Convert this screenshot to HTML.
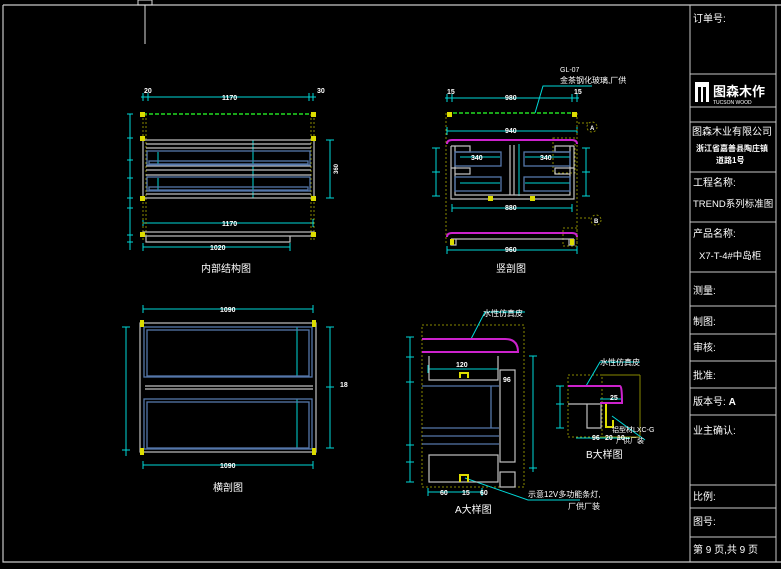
<!DOCTYPE html>
<html><head><meta charset="utf-8"><style>
html,body{margin:0;padding:0;background:#000;width:781px;height:569px;overflow:hidden}
svg{display:block}
text{font-family:"Liberation Sans","Noto Sans CJK SC",sans-serif;fill:#fff}
</style></head><body>
<svg width="781" height="569" viewBox="0 0 781 569" xmlns="http://www.w3.org/2000/svg">
<rect width="781" height="569" fill="#000"/>
<!-- outer frame -->
<path d="M3,5 H781 M3,5 V562 H781" stroke="#c8c8c8" stroke-width="1.2" fill="none"/>
<rect x="138" y="0" width="14" height="5" fill="none" stroke="#ddd"/>
<line x1="145" y1="5" x2="145" y2="44" stroke="#ddd"/>
<!-- title block -->
<g stroke="#c8c8c8" stroke-width="1" fill="none">
<rect x="690" y="5" width="86" height="557"/>
<path d="M690,74H776M690,107H776M690,122H776M690,172H776M690,222H776M690,272H776M690,306H776M690,334H776M690,361H776M690,388H776M690,415H776M690,485H776M690,508H776M690,537H776"/>
</g>
<g font-size="10">
<text x="693" y="22">订单号:</text>
<rect x="695" y="82" width="14" height="20" fill="#fff"/>
<rect x="698" y="87" width="3" height="15" fill="#000"/><rect x="703" y="87" width="3" height="15" fill="#000"/>
<text x="713" y="96" font-size="13" font-weight="bold">图森木作</text>
<text x="713" y="104" font-size="5">TUCSON WOOD</text>
<text x="692" y="135">图森木业有限公司</text>
<text x="696" y="151" font-size="8" font-weight="bold">浙江省嘉善县陶庄镇</text>
<text x="716" y="163" font-size="8" font-weight="bold">道路1号</text>
<text x="693" y="186">工程名称:</text>
<text x="693" y="207" font-size="9.5">TREND系列标准图</text>
<text x="693" y="237">产品名称:</text>
<text x="699" y="259" font-size="9.5">X7-T-4#中岛柜</text>
<text x="693" y="294">测量:</text>
<text x="693" y="325">制图:</text>
<text x="693" y="351">审核:</text>
<text x="693" y="379">批准:</text>
<text x="693" y="405">版本号:  <tspan font-weight="bold">A</tspan></text>
<text x="693" y="434">业主确认:</text>
<text x="693" y="500">比例:</text>
<text x="693" y="525">图号:</text>
<text x="693" y="553">第 9 页,共 9 页</text>
</g>

<!-- ===== 内部结构图 ===== -->
<g stroke="#00d8d8" stroke-width="1" fill="none">
<path d="M141,97H316 M143,93V101 M148,93V101 M313,93V101 M309,93V101"/>
<path d="M143,223H313 M143,219V227 M313,219V227"/>
<path d="M143,247H290 M143,243V251 M290,243V251"/>
<path d="M330,140V198 M326,140H334 M326,198H334"/>
<path d="M253,140V198 M249,140H257 M249,198H257"/>
<path d="M130,114V250 M127,114H133 M127,138H133 M127,160H133 M127,178H133 M127,198H133 M127,208H133 M127,235H133 M127,242H133"/>
<path d="M158,152V165 M158,178V190"/>
</g>
<line x1="143" y1="114" x2="314" y2="114" stroke="#22dd22" stroke-width="1.5" stroke-dasharray="4,2"/>
<g stroke="#888800" stroke-dasharray="2,2"><path d="M143,114V240 M146,114V240 M311,114V240 M314,114V240"/></g>
<g stroke="#c0c0c0" fill="none" stroke-width="1.2">
<rect x="143" y="140" width="171" height="58"/>
<path d="M146,144H311 M146,148H311 M146,166H311 M146,170H311 M146,175H311 M146,194H311"/>
<rect x="143" y="232" width="171" height="4"/>
<path d="M146,236V242H290V236"/>
</g>
<g stroke="#5577aa" fill="none" stroke-width="1.3">
<rect x="147" y="151" width="163" height="14"/><rect x="149" y="161" width="159" height="3"/>
<rect x="147" y="177" width="163" height="14"/><rect x="149" y="187" width="159" height="3"/>
</g>
<g fill="#dddd00">
<rect x="140" y="112" width="5" height="5"/><rect x="311" y="112" width="5" height="5"/>
<rect x="140" y="136" width="5" height="5"/><rect x="311" y="136" width="5" height="5"/>
<rect x="140" y="196" width="5" height="5"/><rect x="311" y="196" width="5" height="5"/>
<rect x="140" y="232" width="5" height="5"/><rect x="311" y="232" width="5" height="5"/>
</g>
<g font-size="7" font-weight="bold">
<text x="144" y="93">20</text><text x="317" y="93">30</text>
<text x="222" y="100">1170</text><text x="222" y="226">1170</text><text x="210" y="250">1020</text>
<text x="332" y="172" font-size="6" transform="rotate(-90 336 170)">360</text>
</g>
<text x="201" y="272" font-size="10">内部结构图</text>

<!-- ===== 竖剖图 ===== -->
<g stroke="#00d8d8" fill="none">
<path d="M445,98H579 M447,94V102 M452,94V102 M572,94V102 M577,94V102"/>
<path d="M447,131H577 M447,127V135 M577,127V135"/>
<path d="M452,208H572 M452,204V212 M572,204V212"/>
<path d="M447,250H577 M447,246V254 M577,246V254"/>
<path d="M436,148V196 M432,148H440 M432,172H440 M432,196H440"/>
<path d="M586,148V196 M582,148H590 M582,172H590 M582,196H590"/>
<path d="M519,144V196"/>
<path d="M535,113L543,86H592"/>
<path d="M460,157H500 M525,157H570 M460,183H500 M525,183H570"/>
</g>
<line x1="447" y1="113" x2="577" y2="113" stroke="#22dd22" stroke-width="1.5" stroke-dasharray="4,2"/>
<g stroke="#888800" stroke-dasharray="2,2" fill="none"><path d="M446,113V245 M577,113V245 M578,123H590 M580,218H590"/><circle cx="592" cy="127" r="5"/><circle cx="596" cy="220" r="5"/><rect x="553" y="138" width="22" height="35"/><rect x="563" y="228" width="14" height="18"/></g>
<g stroke="#cc22cc" stroke-width="2" fill="none">
<path d="M447,144Q447,140 452,140H572Q577,140 577,144"/>
<path d="M447,237Q447,233 452,233H572Q577,233 577,237"/>
</g>
<g stroke="#c0c0c0" fill="none" stroke-width="1.2">
<path d="M451,146V199H574V146 M455,146V195H570V146 M451,146H470V152H455 M574,146H555V152H570 M451,168H470V174H455 M574,168H555V174H570 M510,145V195 M514,145V195 M451,239H574 M451,239V245H456V239 M574,239V245H569V239"/>
</g>
<g stroke="#5577aa" fill="none" stroke-width="1.3">
<rect x="455" y="152" width="46" height="14"/><rect x="524" y="152" width="46" height="14"/>
<rect x="455" y="177" width="46" height="14"/><rect x="524" y="177" width="46" height="14"/>
</g>
<g fill="#dddd00"><rect x="447" y="112" width="5" height="5"/><rect x="572" y="112" width="5" height="5"/><rect x="488" y="196" width="5" height="5"/><rect x="530" y="196" width="5" height="5"/><rect x="450" y="239" width="4" height="6"/><rect x="570" y="239" width="4" height="6"/></g>
<g font-size="7" font-weight="bold">
<text x="447" y="94">15</text><text x="574" y="94">15</text>
<text x="505" y="100">980</text><text x="505" y="133">940</text><text x="505" y="210">880</text><text x="505" y="252">960</text>
<text x="471" y="160">340</text><text x="540" y="160">340</text>
<text x="590" y="130" font-size="6">A</text><text x="594" y="223" font-size="6">B</text>
</g>
<text x="560" y="72" font-size="7">GL-07</text>
<text x="560" y="83" font-size="8">金茶钢化玻璃,厂供</text>
<text x="496" y="272" font-size="10">竖剖图</text>

<!-- ===== 横剖图 ===== -->
<g stroke="#00d8d8" fill="none">
<path d="M143,309H313 M143,305V313 M313,305V313"/>
<path d="M143,465H313 M143,461V469 M313,461V469"/>
<path d="M126,327V456 M122,327H130 M122,450H130"/>
<path d="M330,327V448 M326,327H334 M326,387H334 M326,448H334"/>
<path d="M297,327V376 M293,327H301 M293,376H301 M297,399V448 M293,399H301 M293,448H301"/>
</g>
<g stroke="#c0c0c0" fill="none" stroke-width="1.2">
<rect x="140" y="323" width="176" height="129"/>
<path d="M145,386H313 M145,389H313"/>
</g>
<g stroke="#5577aa" fill="none" stroke-width="1.3">
<rect x="144" y="327" width="168" height="50"/><rect x="147" y="330" width="162" height="46"/>
<rect x="144" y="399" width="168" height="50"/><rect x="147" y="402" width="162" height="46"/>
</g>
<g fill="#dddd00"><rect x="140" y="320" width="4" height="7"/><rect x="312" y="320" width="4" height="7"/><rect x="140" y="448" width="4" height="7"/><rect x="312" y="448" width="4" height="7"/></g>
<g font-size="7" font-weight="bold"><text x="220" y="312">1090</text><text x="220" y="468">1090</text><text x="340" y="387">18</text></g>
<text x="213" y="491" font-size="10">横剖图</text>

<!-- ===== A大样图 ===== -->
<g stroke="#888800" stroke-dasharray="2,2" fill="none"><rect x="422" y="325" width="102" height="162"/></g>
<g stroke="#00d8d8" fill="none">
<path d="M410,337V482 M406,337H414 M406,357H414 M406,382H414 M406,445H414 M406,462H414 M406,482H414"/>
<path d="M533,356V472 M529,356H537 M529,468H537"/>
<path d="M428,369H498 M428,365V373 M498,365V373"/>
<path d="M428,492H482 M428,488V496 M482,488V496"/>
<path d="M471,339L485,312H525"/>
<path d="M465,478L528,500H580"/>
</g>
<path d="M422,339H505Q518,339 518,352H422" stroke="#cc22cc" stroke-width="2" fill="none"/>
<g stroke="#c0c0c0" fill="none" stroke-width="1.2">
<path d="M429,356V380H498V356"/>
<rect x="500" y="370" width="15" height="92"/><rect x="500" y="472" width="15" height="15"/>
<rect x="429" y="455" width="69" height="27"/>
</g>
<g stroke="#5577aa" fill="none" stroke-width="1.3"><path d="M422,386H499 M491,386V428 M422,428H499 M422,436H499 M422,444H499"/></g>
<g stroke="#dddd00" stroke-width="2" fill="none"><path d="M460,378V373H468V378 M460,482V475H468V482"/></g>
<g font-size="7" font-weight="bold"><text x="456" y="367">120</text><text x="503" y="382">96</text><text x="440" y="495">60</text><text x="462" y="495">15</text><text x="480" y="495">60</text></g>
<text x="483" y="316" font-size="8">水性仿真皮</text>
<text x="528" y="497" font-size="8">示意12V多功能条灯,</text>
<text x="568" y="509" font-size="8">厂供厂装</text>
<text x="455" y="513" font-size="10">A大样图</text>

<!-- ===== B大样图 ===== -->
<g stroke="#888800" stroke-dasharray="2,2" fill="none"><rect x="568" y="375" width="72" height="62"/><rect x="602" y="375" width="38" height="62"/></g>
<g stroke="#00d8d8" fill="none">
<path d="M560,386V428 M556,386H564 M556,404H564 M556,428H564"/>
<path d="M600,399H622"/>
<path d="M576,438H630"/>
<path d="M586,386L600,362H640"/>
<path d="M612,416L645,440"/>
</g>
<path d="M568,386H620Q622,386 622,403H600" stroke="#cc22cc" stroke-width="2" fill="none"/>
<g stroke="#c0c0c0" fill="none" stroke-width="1.2"><path d="M568,404H600 M587,404V428H601V404"/></g>
<path d="M606,404V427H613V420" stroke="#dddd00" stroke-width="2" fill="none"/>
<g font-size="7" font-weight="bold"><text x="592" y="440">96</text><text x="605" y="440">20</text><text x="617" y="440">10</text><text x="610" y="400">25</text></g>
<text x="600" y="365" font-size="8">水性仿真皮</text>
<text x="612" y="432" font-size="7">铝型材LXC-G</text>
<text x="616" y="443" font-size="7">厂供厂装</text>
<text x="586" y="458" font-size="10">B大样图</text>
</svg>
</body></html>
